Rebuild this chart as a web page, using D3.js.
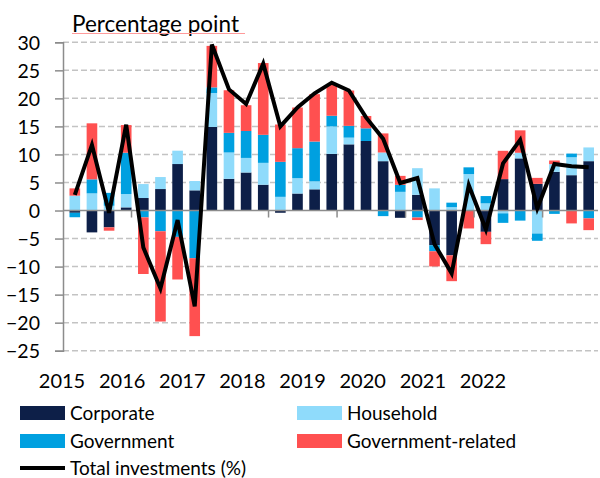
<!DOCTYPE html>
<html>
<head>
<meta charset="utf-8">
<script src="https://cdn.jsdelivr.net/npm/d3@7"></script>
<style>
  body { margin: 0; background: #fff; }
  svg text { font-family: Lato, "Liberation Sans", sans-serif; fill: #000; }
</style>
</head>
<body>
<div id="result"></div>
<script>
// quarterly categories 2015Q1 .. 2022Q3
var quarters = [];
[2015, 2016, 2017, 2018, 2019, 2020, 2021, 2022].forEach(function(y){
  ["Q1", "Q2", "Q3", "Q4"].forEach(function(q){ quarters.push(y + q); });
});
quarters = quarters.slice(0, 31);

var years = ["2015", "2016", "2017", "2018", "2019", "2020", "2021", "2022"];
var yTicks = [30, 25, 20, 15, 10, 5, 0, -5, -10, -15, -20, -25];

var corporate = [-0.4, -3.9, -3.0, 0.56, 2.23, 3.83, 8.29, 3.6,
                 14.9, 5.65, 6.78, 4.6, -0.4, 3.03, 3.78, 10.1,
                 11.8, 12.4, 8.8, -1.3, 2.8, -6.2, -8.0, 0,
                 -3.8, 5.6, 9.3, 4.75, 6.9, 6.3, 8.8];
var household = [2.65, 3.06, 0.85, 2.38, 2.49, 2.14, 2.38, 1.66,
                 6.06, 4.7, 2.6, 3.9, 2.44, 2.74, 1.42, 4.9,
                 1.2, 0, 1.55, 3.33, 4.75, 3.95, 0.6, 6.5,
                 1.28, -0.5, 1.0, -4.1, 1.37, 3.2, 2.45];
var government = [-0.8, 2.5, 2.3, 7.37, -1.22, -3.7, -4.7, -8.5,
                  1.0, 3.5, 4.8, 5.0, 6.24, 5.35, 7.1, 1.9,
                  2.1, 2.26, -1.0, 1.25, -1.25, -1.07, 0.8, 1.2,
                  1.3, -1.7, -1.8, -1.3, -0.6, 0.65, -1.4];
var govRelated = [1.3, 9.99, -0.6, 4.93, -10.1, -16.1, -7.6, -13.9,
                  7.4, 7.6, 4.6, 12.8, 6.66, 7.25, 8.45, 5.5,
                  6.3, 2.2, 3.4, 1.6, -0.45, -2.7, -4.6, -3.2,
                  -2.2, 5.05, 4.0, 1.07, 0.65, -2.3, -2.1];
var total = [2.8, 11.7, -0.4, 15.3, -6.6, -13.9, -1.7, -17.1,
             29.6, 21.6, 19.0, 26.2, 15.0, 18.4, 20.9, 22.8,
             21.4, 16.6, 12.8, 4.9, 5.8, -6.0, -11.2, 4.5,
             -3.4, 8.4, 12.6, 0.4, 8.3, 7.9, 7.7];

var series = [
  {key: "corporate",  name: "Corporate",          color: "#0d1f48", values: corporate},
  {key: "household",  name: "Household",          color: "#8fdbfb", values: household},
  {key: "government", name: "Government",         color: "#00a0e0", values: government},
  {key: "govRelated", name: "Government-related", color: "#ff5050", values: govRelated}
];

(function(){
  'use strict';

  var width = 600, height = 478;
  var left = 63, right = 600.5, top = 42.3, bottom = 350.7;

  var svg = d3.select("#result").append("svg")
    .attr("width", width)
    .attr("height", height);

  var rows = quarters.map(function(q, i){
    var r = {q: q};
    series.forEach(function(s){ r[s.key] = s.values[i]; });
    return r;
  });

  var x = d3.scaleBand().domain(quarters).range([left, right]).padding(0.38);
  var y = d3.scaleLinear().domain([-25, 30]).range([bottom, top]);
  var xLab = d3.scalePoint().domain(years).range([62, 483]);

  // dashed grid
  svg.append("g")
    .selectAll("line")
    .data(yTicks.filter(function(d){ return d !== 0; }))
    .enter().append("line")
    .attr("x1", left).attr("x2", 598)
    .attr("y1", function(d){ return y(d); })
    .attr("y2", function(d){ return y(d); })
    .attr("stroke", "#c3c3c3")
    .attr("stroke-width", 1.5)
    .attr("stroke-dasharray", "6,3");

  // y axis
  var yAxis = svg.append("g")
    .attr("transform", "translate(" + left + ",0)")
    .call(d3.axisLeft(y).tickValues(yTicks).tickSize(8).tickPadding(15));
  yAxis.select(".domain").attr("stroke", "#8c8c8c").attr("stroke-width", 1.5);
  yAxis.selectAll(".tick line").attr("stroke", "#8c8c8c").attr("stroke-width", 1.5);
  yAxis.selectAll(".tick text")
    .attr("font-size", 19.5)
    .attr("font-family", "Lato, sans-serif")
    .attr("dy", "0.35em");

  // stacked bars
  var stack = d3.stack()
    .keys(series.map(function(s){ return s.key; }))
    .offset(d3.stackOffsetDiverging);
  var layers = stack(rows);

  svg.append("g")
    .selectAll("g")
    .data(layers)
    .enter().append("g")
    .attr("fill", function(d, i){ return series[i].color; })
    .selectAll("rect")
    .data(function(d){ return d; })
    .enter().append("rect")
    .attr("x", function(d){ return x(d.data.q); })
    .attr("width", x.bandwidth())
    .attr("y", function(d){ return y(Math.max(d[0], d[1])); })
    .attr("height", function(d){ return Math.abs(y(d[0]) - y(d[1])); });

  // zero line with year ticks
  svg.append("line")
    .attr("x1", left).attr("x2", 598)
    .attr("y1", y(0)).attr("y2", y(0))
    .attr("stroke", "#8c8c8c").attr("stroke-width", 1.5);

  svg.append("g")
    .selectAll("line")
    .data(d3.range(4, quarters.length, 4))
    .enter().append("line")
    .attr("x1", function(i){ return left + i * x.step(); })
    .attr("x2", function(i){ return left + i * x.step(); })
    .attr("y1", y(0)).attr("y2", y(0) + 7)
    .attr("stroke", "#8c8c8c").attr("stroke-width", 1.5);

  // total line
  var line = d3.line()
    .x(function(d, i){ return x(quarters[i]) + x.bandwidth() / 2; })
    .y(function(d){ return y(d); });

  svg.append("path")
    .datum(total)
    .attr("d", line)
    .attr("fill", "none")
    .attr("stroke", "#000")
    .attr("stroke-width", 4)
    .attr("stroke-linejoin", "miter");

  // year labels
  svg.append("g")
    .selectAll("text")
    .data(years)
    .enter().append("text")
    .attr("x", function(d){ return xLab(d); })
    .attr("y", 388)
    .attr("text-anchor", "middle")
    .attr("font-size", 20)
    .text(function(d){ return d; });

  // title
  svg.append("text")
    .attr("x", 72).attr("y", 32)
    .attr("font-size", 22.5)
    .text("Percentage point");
  svg.append("line")
    .attr("x1", 72).attr("x2", 245)
    .attr("y1", 33.5).attr("y2", 33.5)
    .attr("stroke", "#ff9a9a").attr("stroke-width", 1);

  // legend
  var legendPos = [
    {x: 20, y: 413}, {x: 297, y: 413},
    {x: 20, y: 441}, {x: 297, y: 441}
  ];
  var lg = svg.append("g")
    .selectAll("g")
    .data(series)
    .enter().append("g")
    .attr("transform", function(d, i){
      return "translate(" + legendPos[i].x + "," + legendPos[i].y + ")";
    });
  lg.append("rect")
    .attr("x", 0).attr("y", -7)
    .attr("width", 45).attr("height", 14)
    .attr("fill", function(d){ return d.color; });
  lg.append("text")
    .attr("x", 50).attr("y", 7)
    .attr("font-size", 19)
    .text(function(d){ return d.name; });

  var lt = svg.append("g").attr("transform", "translate(20,468)");
  lt.append("line")
    .attr("x1", 0).attr("x2", 45)
    .attr("stroke", "#000").attr("stroke-width", 4);
  lt.append("text")
    .attr("x", 50).attr("y", 7)
    .attr("font-size", 19)
    .text("Total investments (%)");
})();
</script>
</body>
</html>
